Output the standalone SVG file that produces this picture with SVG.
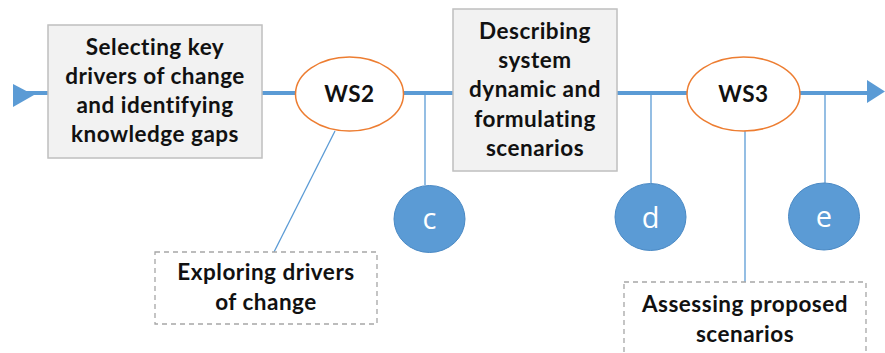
<svg xmlns="http://www.w3.org/2000/svg" width="885" height="353" viewBox="0 0 885 353">
  <style>
    .step { fill: #F2F2F2; stroke: #BFBFBF; stroke-width: 1.5; }
    .note { fill: #FFFFFF; stroke: #A6A6A6; stroke-width: 1.3; stroke-dasharray: 5 4; }
    .ws { fill: #FFFFFF; stroke: #ED7D31; stroke-width: 1.5; }
    .dot { fill: #5B9BD5; stroke: #4A89C4; stroke-width: 1; }
    .main { stroke: #5B9BD5; stroke-width: 4; fill: none; }
    .link { stroke: #5B9BD5; stroke-width: 1.3; fill: none; }
    .label { font-family: Lato, "Open Sans", "Liberation Sans", sans-serif; font-weight: bold; font-size: 22.5px; letter-spacing: 0.5px; fill: #111111; text-anchor: middle; }
    .letter { font-family: "Open Sans", "Liberation Sans", sans-serif; font-size: 29px; fill: #FFFFFF; text-anchor: middle; }
  </style>

  <!-- connectors -->
  <g id="connectors">
    <line class="main" x1="14" y1="93" x2="870" y2="93"/>
    <polygon points="13,84 13,107 34,95" fill="#5B9BD5"/>
    <polygon points="867,80 885,91.5 867,103" fill="#5B9BD5"/>
    <line class="link" x1="335" y1="131" x2="274" y2="252"/>
    <line class="link" x1="425" y1="93" x2="425" y2="185"/>
    <line class="link" x1="651" y1="93" x2="651" y2="183"/>
    <line class="link" x1="825" y1="93" x2="825" y2="183"/>
    <line class="link" x1="745" y1="131" x2="745" y2="282"/>
  </g>

  <g id="step-drivers">
    <rect class="step" x="48" y="25" width="214" height="133"/>
    <text class="label" x="155" y="55">Selecting key</text>
    <text class="label" x="155" y="84">drivers of change</text>
    <text class="label" x="155" y="113">and identifying</text>
    <text class="label" x="155" y="142">knowledge gaps</text>
  </g>

  <g id="ws2">
    <ellipse class="ws" cx="349.5" cy="94" rx="54" ry="37"/>
    <text class="label" x="349.5" y="102">WS2</text>
  </g>

  <g id="step-scenarios">
    <rect class="step" x="453" y="9" width="164" height="162"/>
    <text class="label" x="535" y="39">Describing</text>
    <text class="label" x="535" y="68">system</text>
    <text class="label" x="535" y="97">dynamic and</text>
    <text class="label" x="535" y="127">formulating</text>
    <text class="label" x="535" y="156">scenarios</text>
  </g>

  <g id="ws3">
    <ellipse class="ws" cx="743.5" cy="94" rx="56.5" ry="37"/>
    <text class="label" x="743.5" y="102">WS3</text>
  </g>

  <g id="marker-c">
    <ellipse class="dot" cx="429.5" cy="219" rx="35.5" ry="33.5"/>
    <text class="letter" x="429.5" y="229">c</text>
  </g>

  <g id="marker-d">
    <ellipse class="dot" cx="650.5" cy="217" rx="35.5" ry="33.5"/>
    <text class="letter" x="650.5" y="228">d</text>
  </g>

  <g id="marker-e">
    <ellipse class="dot" cx="824" cy="216.5" rx="35.5" ry="33.5"/>
    <text class="letter" x="824" y="227">e</text>
  </g>

  <g id="note-exploring">
    <rect class="note" x="155" y="252" width="222" height="72"/>
    <text class="label" x="266" y="280">Exploring drivers</text>
    <text class="label" x="266" y="310">of change</text>
  </g>

  <g id="note-assessing">
    <rect class="note" x="624" y="282" width="242" height="90"/>
    <text class="label" x="745" y="312">Assessing proposed</text>
    <text class="label" x="745" y="342">scenarios</text>
  </g>
</svg>
